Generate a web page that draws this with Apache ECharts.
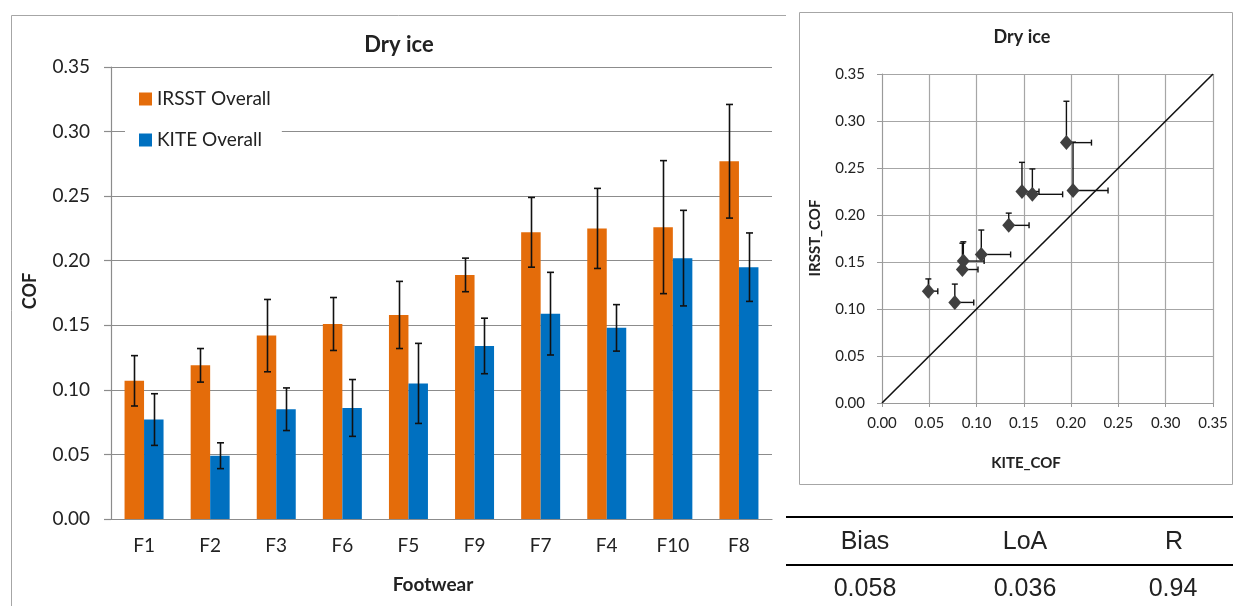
<!DOCTYPE html>
<html>
<head>
<meta charset="utf-8">
<title>Dry ice</title>
<script src="https://cdn.jsdelivr.net/npm/echarts@6/dist/echarts.min.js"></script>
<style>
  html, body { margin: 0; padding: 0; background: #fff; }
  #chart { width: 1233px; height: 606px; }
</style>
</head>
<body>
<div id="chart"></div>
<script>
// Footwear samples, in the order they are plotted
const categories = ['F1', 'F2', 'F3', 'F6', 'F5', 'F9', 'F7', 'F4', 'F10', 'F8'];

// Mean COF and standard deviation per footwear
const irsstMean = [0.107, 0.119, 0.142, 0.151, 0.158, 0.189, 0.222, 0.225, 0.226, 0.277];
const irsstSD   = [0.0195, 0.013, 0.028, 0.0205, 0.026, 0.013, 0.027, 0.031, 0.0515, 0.044];
const kiteMean  = [0.077, 0.049, 0.085, 0.086, 0.105, 0.134, 0.159, 0.148, 0.202, 0.195];
const kiteSD    = [0.020, 0.010, 0.0165, 0.022, 0.031, 0.0215, 0.032, 0.018, 0.037, 0.0265];

// Axis range shared by both panels
const axisMin = 0;
const axisMax = 0.35;
const axisStep = 0.05;

// Line of equality endpoints for the scatter panel
const identityLine = [[0, 0], [0.35, 0.35]];

// Agreement statistics table
const statNames  = ['Bias', 'LoA', 'R'];
const statValues = ['0.058', '0.036', '0.94'];

const ORANGE = '#E46C0A';
const BLUE = '#0070C0';
const GRID_COLOR = '#8c8c8c';
const TEXT = '#222';
const FONT = 'Lato';
const BAR_FRAC = 0.295;

const fmt = v => v.toFixed(2);

// Symmetric error bars drawn over a bar series
function barErrors(sign) {
  return function (params, api) {
    const i = api.value(0);
    const m = api.value(1);
    const s = api.value(2);
    const band = api.size([1, 0])[0];
    const dx = sign * band * BAR_FRAC / 2;
    const top = api.coord([i, m + s]);
    const bot = api.coord([i, m - s]);
    const x = Math.round(top[0] + dx) + 0.5;
    const cap = 3.5;
    const st = { stroke: '#111', lineWidth: 1.6 };
    return {
      type: 'group',
      children: [
        { type: 'line', shape: { x1: x, y1: top[1], x2: x, y2: bot[1] }, style: st },
        { type: 'line', shape: { x1: x - cap, y1: top[1], x2: x + cap, y2: top[1] }, style: st },
        { type: 'line', shape: { x1: x - cap, y1: bot[1], x2: x + cap, y2: bot[1] }, style: st }
      ]
    };
  };
}

// Plus-direction error bars for the scatter points
function scatterErrors(params, api) {
  const x = api.value(0), y = api.value(1), sx = api.value(2), sy = api.value(3);
  const p = api.coord([x, y]);
  const pTop = api.coord([x, y + sy]);
  const pRight = api.coord([x + sx, y]);
  const cap = 3;
  const st = { stroke: '#111', lineWidth: 1.4 };
  return {
    type: 'group',
    children: [
      { type: 'line', shape: { x1: p[0], y1: p[1], x2: p[0], y2: pTop[1] }, style: st },
      { type: 'line', shape: { x1: p[0] - cap, y1: pTop[1], x2: p[0] + cap, y2: pTop[1] }, style: st },
      { type: 'line', shape: { x1: p[0], y1: p[1], x2: pRight[0], y2: p[1] }, style: st },
      { type: 'line', shape: { x1: pRight[0], y1: p[1] - cap, x2: pRight[0], y2: p[1] + cap }, style: st }
    ]
  };
}

const chart = echarts.init(document.getElementById('chart'), null, { renderer: 'canvas' });

const textEl = (text, x, y, size, opts) => Object.assign({
  type: 'text', x: x, y: y,
  style: {
    text: text, fill: TEXT, align: 'center', verticalAlign: 'middle',
    font: (opts && opts.bold ? 'bold ' : '') + size + 'px ' + ((opts && opts.family) || FONT)
  }
}, opts && opts.rotation ? { rotation: opts.rotation } : {});

const option = {
  animation: false,
  backgroundColor: '#fff',
  textStyle: { fontFamily: FONT },
  grid: [
    { left: 111, top: 67, width: 661, height: 452 },
    { left: 882, top: 74, width: 331, height: 329 }
  ],
  legend: {
    data: ['IRSST Overall', 'KITE Overall'],
    orient: 'vertical',
    left: 125, top: 81,
    padding: [8, 11, 8, 14],
    itemGap: 21,
    itemWidth: 13, itemHeight: 13,
    icon: 'rect',
    backgroundColor: '#fff',
    textStyle: { fontSize: 19, color: TEXT, fontFamily: FONT, lineHeight: 20 }
  },
  xAxis: [
    {
      type: 'category', gridIndex: 0, data: categories,
      axisLine: { lineStyle: { color: GRID_COLOR, width: 1.2 } },
      axisTick: { show: false },
      axisLabel: { fontSize: 19, color: TEXT, margin: 17, fontFamily: FONT }
    },
    {
      type: 'value', gridIndex: 1, min: axisMin, max: axisMax, interval: axisStep,
      axisLine: { show: true, lineStyle: { color: '#9a9a9a' } },
      axisTick: { show: true, length: 4, lineStyle: { color: '#9a9a9a' } },
      splitLine: { show: true, lineStyle: { color: '#a6a6a6', width: 1.2 } },
      axisLabel: { fontSize: 15, color: TEXT, margin: 13, formatter: fmt, fontFamily: FONT }
    }
  ],
  yAxis: [
    {
      type: 'value', gridIndex: 0, min: axisMin, max: axisMax, interval: axisStep,
      axisLine: { show: true, lineStyle: { color: GRID_COLOR, width: 1.2 } },
      axisTick: { show: true, length: 7, lineStyle: { color: GRID_COLOR, width: 1.2 } },
      splitLine: { show: true, lineStyle: { color: GRID_COLOR, width: 1.2 } },
      axisLabel: { fontSize: 19, color: TEXT, margin: 21, formatter: fmt, fontFamily: FONT }
    },
    {
      type: 'value', gridIndex: 1, min: axisMin, max: axisMax, interval: axisStep,
      axisLine: { show: true, lineStyle: { color: '#9a9a9a' } },
      axisTick: { show: true, length: 5, lineStyle: { color: '#9a9a9a' } },
      splitLine: { show: true, lineStyle: { color: '#a6a6a6', width: 1.2 } },
      axisLabel: { fontSize: 15, color: TEXT, margin: 17, formatter: fmt, fontFamily: FONT }
    }
  ],
  series: [
    {
      name: 'IRSST Overall', type: 'bar', xAxisIndex: 0, yAxisIndex: 0,
      data: irsstMean, barWidth: (BAR_FRAC * 100) + '%', barGap: '0%',
      itemStyle: { color: ORANGE }
    },
    {
      name: 'KITE Overall', type: 'bar', xAxisIndex: 0, yAxisIndex: 0,
      data: kiteMean, barWidth: (BAR_FRAC * 100) + '%', barGap: '0%',
      itemStyle: { color: BLUE }
    },
    {
      type: 'custom', xAxisIndex: 0, yAxisIndex: 0, z: 5,
      renderItem: barErrors(-1), encode: { x: 0, y: 1 },
      data: categories.map((c, i) => [i, irsstMean[i], irsstSD[i]])
    },
    {
      type: 'custom', xAxisIndex: 0, yAxisIndex: 0, z: 5,
      renderItem: barErrors(1), encode: { x: 0, y: 1 },
      data: categories.map((c, i) => [i, kiteMean[i], kiteSD[i]])
    },
    {
      type: 'line', xAxisIndex: 1, yAxisIndex: 1, data: identityLine,
      symbol: 'none', lineStyle: { color: '#111', width: 1.6 }, z: 3
    },
    {
      type: 'custom', xAxisIndex: 1, yAxisIndex: 1, z: 4,
      renderItem: scatterErrors, encode: { x: 0, y: 1 },
      data: categories.map((c, i) => [kiteMean[i], irsstMean[i], kiteSD[i], irsstSD[i]])
    },
    {
      type: 'scatter', xAxisIndex: 1, yAxisIndex: 1, z: 6,
      symbol: 'diamond', symbolSize: [13, 15],
      itemStyle: { color: '#404040', opacity: 1 },
      data: categories.map((c, i) => [kiteMean[i], irsstMean[i]])
    }
  ],
  graphic: [
    // panel frames
    { type: 'polyline', shape: { points: [[11.5, 606], [11.5, 15.5], [786, 15.5]] },
      style: { stroke: '#a6a6a6', fill: null, lineWidth: 1 } },
    { type: 'rect', shape: { x: 799.5, y: 12.5, width: 433, height: 472 },
      style: { stroke: '#a6a6a6', fill: null, lineWidth: 1 } },
    // titles and axis names
    textEl('Dry ice', 399, 45, 22, { bold: true }),
    textEl('COF', 30, 291, 18, { bold: true, rotation: Math.PI / 2 }),
    textEl('Footwear', 433, 585, 19, { bold: true }),
    textEl('Dry ice', 1022, 37, 18, { bold: true }),
    textEl('IRSST_COF', 815, 238, 15, { bold: true, rotation: Math.PI / 2 }),
    textEl('KITE_COF', 1026, 463, 15, { bold: true }),
    // statistics table
    { type: 'line', shape: { x1: 786, y1: 517, x2: 1233, y2: 517 }, style: { stroke: '#000', lineWidth: 2 } },
    { type: 'line', shape: { x1: 786, y1: 565, x2: 1233, y2: 565 }, style: { stroke: '#000', lineWidth: 2 } }
  ].concat(
    statNames.map((s, i) => textEl(s, [865, 1025, 1174][i], 542, 25, { family: '"Liberation Sans", Arial' })),
    statValues.map((s, i) => textEl(s, [865, 1025, 1173][i], 589, 25, { family: '"Liberation Sans", Arial' }))
  )
};

chart.setOption(option);
</script>
</body>
</html>
